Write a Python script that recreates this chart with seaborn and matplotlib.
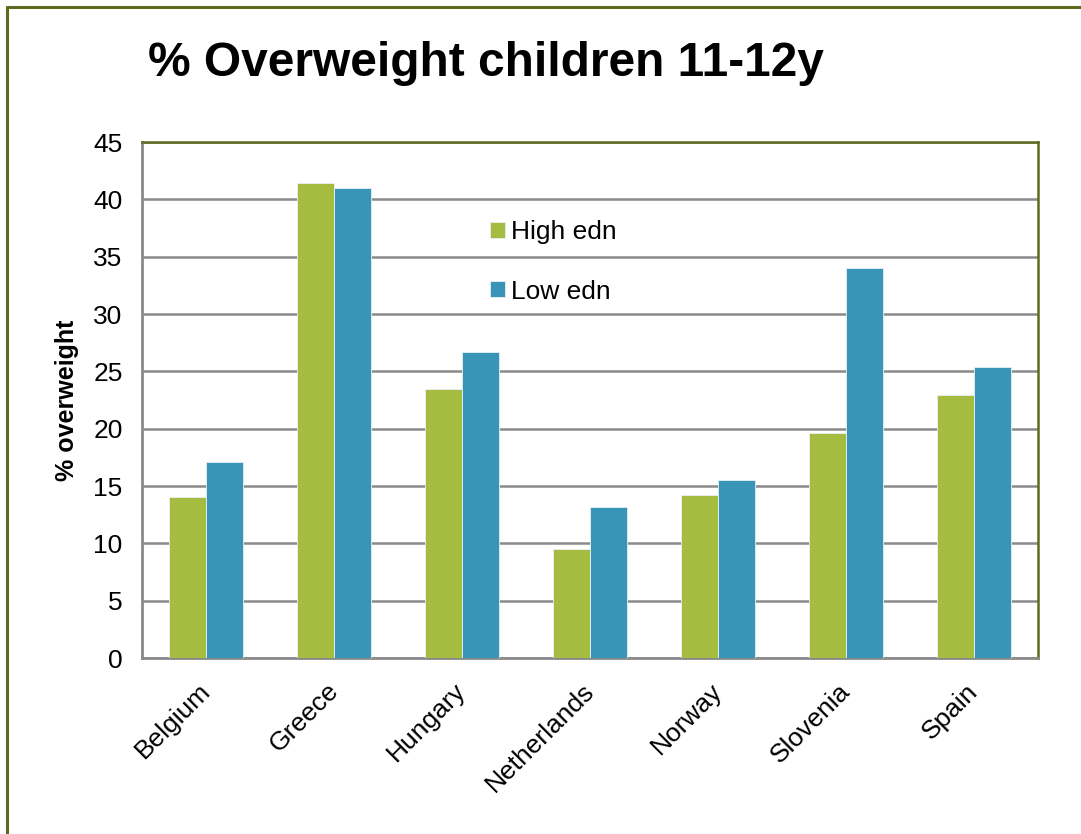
import matplotlib
matplotlib.use("Agg")
import matplotlib.pyplot as plt
from matplotlib.lines import Line2D
from matplotlib.transforms import ScaledTranslation
import seaborn as sns
import pandas as pd
import numpy as np

# ── Data ─────────────────────────────────────────────────────────────────────
countries = ["Belgium", "Greece", "Hungary", "Netherlands", "Norway", "Slovenia", "Spain"]
high_edn  = [14.0, 41.4, 23.5, 9.5, 14.2, 19.6, 22.9]
low_edn   = [17.1, 41.0, 26.7, 13.2, 15.5, 34.0, 25.4]
series    = ["High edn", "Low edn"]
colors    = ["#a5bc40", "#3995b8"]

df = pd.DataFrame({
    "country": countries * 2,
    "value":   high_edn + low_edn,
    "group":   [series[0]] * len(countries) + [series[1]] * len(countries),
})

# ── Style ────────────────────────────────────────────────────────────────────
sns.set_style("white")
plt.rcParams["font.family"] = ["Liberation Sans", "DejaVu Sans"]
plt.rcParams["text.color"] = "black"
plt.rcParams["axes.labelcolor"] = "black"
plt.rcParams["xtick.color"] = "black"
plt.rcParams["ytick.color"] = "black"

olive = "#5e6a1e"
grey  = "#8a8a8a"

fig = plt.figure(figsize=(10.81, 8.34), dpi=100)
ax = fig.add_axes([142 / 1081, 1 - 658 / 834, 896 / 1081, 516 / 834])

sns.barplot(data=df, x="country", y="value", hue="group",
            palette=colors, saturation=1, width=0.575, ax=ax,
            edgecolor="#e8f0f4", linewidth=0.6, legend=True, zorder=3)

ax.set_ylim(0, 45)
ax.set_xlim(-0.5, len(countries) - 0.5)
ax.set_yticks(np.arange(0, 46, 5))
ax.yaxis.grid(True, color=grey, linewidth=1.8, zorder=0)
ax.set_axisbelow(True)

# ticks: y outside, x at category boundaries
ax.tick_params(axis="y", length=7, width=1.5, color=grey, labelcolor="black",
               labelsize=19, pad=7)
ax.set_xticks(np.arange(len(countries)))
ax.set_xticks(np.arange(-0.5, len(countries)), minor=True)
ax.tick_params(axis="x", which="major", length=0, labelsize=19, pad=15)
ax.tick_params(axis="x", which="minor", length=8, width=1.5, color=grey)
ax.set_xticklabels(countries, rotation=45, ha="right", rotation_mode="anchor")
shift = ScaledTranslation(-8 / 100, 0, fig.dpi_scale_trans)
for lbl in ax.get_xticklabels():
    lbl.set_transform(lbl.get_transform() + shift)

for s in ["left", "bottom"]:
    ax.spines[s].set_color(grey)
    ax.spines[s].set_linewidth(2)
for s in ["top", "right"]:
    ax.spines[s].set_color(olive)
    ax.spines[s].set_linewidth(1.8)

ax.set_xlabel("")
ax.set_ylabel("% overweight", fontsize=18, fontweight="bold", labelpad=10)

leg = ax.legend(loc="upper left", bbox_to_anchor=(0.362, 0.895), frameon=False,
                fontsize=19, handlelength=0.55, handleheight=0.55,
                handletextpad=0.25, labelspacing=1.35)

fig.text(148 / 1081, 1 - 64 / 834, "% Overweight children 11-12y",
         fontsize=34.5, fontweight="bold", ha="left", va="center", color="black")

# outer slide frame (left and top edges)
fig.add_artist(Line2D([7 / 1081, 7 / 1081], [0, 1 - 7 / 834], color=olive, lw=2.2))
fig.add_artist(Line2D([7 / 1081, 1], [1 - 7 / 834, 1 - 7 / 834], color=olive, lw=2.2))

fig.savefig("out.png", dpi=100)
